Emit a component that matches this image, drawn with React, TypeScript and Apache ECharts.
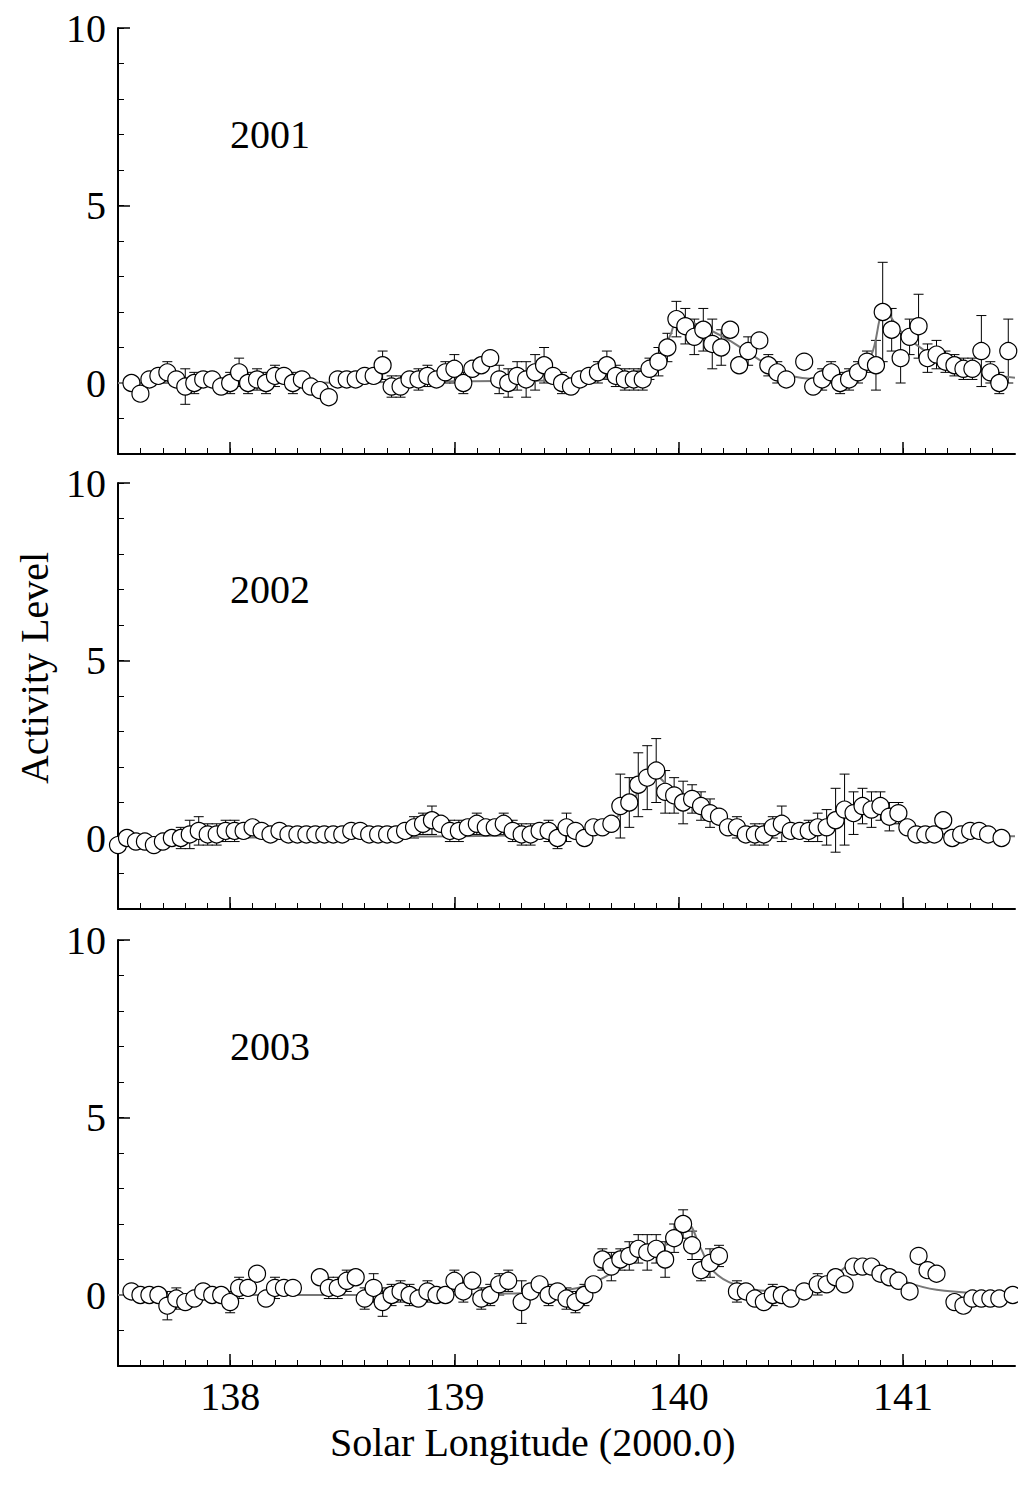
import React, { useEffect, useRef } from "react";
import * as echarts from "echarts";

const years = ["2001", "2002", "2003"];
const xLabels = [138, 139, 140, 141];
const yLabels = [0, 5, 10];

// [solar longitude, activity, error half-length]
const obs2001 = [[137.56,0,0],[137.60,-0.3,0],[137.64,0.1,0],[137.68,0.2,0.2],[137.72,0.3,0.3],[137.76,0.1,0],[137.80,-0.1,0.5],[137.84,0,0.3],[137.88,0.1,0],[137.92,0.1,0.2],[137.96,-0.1,0.2],[138.00,0,0.3],[138.04,0.3,0.4],[138.08,0,0.3],[138.12,0.1,0.3],[138.16,0,0.3],[138.20,0.2,0.3],[138.24,0.2,0],[138.28,0,0.3],[138.32,0.1,0.2],[138.36,-0.1,0],[138.40,-0.2,0],[138.44,-0.4,0],[138.48,0.1,0],[138.52,0.1,0],[138.56,0.1,0],[138.60,0.2,0],[138.64,0.2,0],[138.68,0.5,0.4],[138.72,-0.1,0.3],[138.76,-0.1,0.3],[138.80,0.1,0],[138.84,0.1,0.3],[138.88,0.2,0.3],[138.92,0.1,0],[138.96,0.3,0.3],[139.00,0.4,0.4],[139.04,0,0.3],[139.08,0.4,0],[139.12,0.5,0],[139.16,0.7,0],[139.20,0.1,0.4],[139.24,0,0.4],[139.28,0.2,0.4],[139.32,0.1,0.5],[139.36,0.3,0.5],[139.40,0.5,0.5],[139.44,0.2,0],[139.48,0,0.3],[139.52,-0.1,0.2],[139.56,0.1,0],[139.60,0.2,0],[139.64,0.3,0.3],[139.68,0.5,0.4],[139.72,0.2,0.3],[139.76,0.1,0.3],[139.80,0.1,0.3],[139.84,0.1,0.3],[139.87,0.4,0.3],[139.91,0.6,0.4],[139.95,1.0,0.4],[139.99,1.8,0.5],[140.03,1.6,0.5],[140.07,1.3,0.5],[140.11,1.5,0.6],[140.15,1.1,0.7],[140.19,1.0,0.5],[140.23,1.5,0],[140.27,0.5,0],[140.31,0.9,0.4],[140.36,1.2,0],[140.40,0.5,0.3],[140.44,0.3,0.3],[140.48,0.1,0],[140.56,0.6,0],[140.60,-0.1,0],[140.64,0.1,0.3],[140.68,0.3,0.3],[140.72,0,0.3],[140.76,0.1,0.3],[140.80,0.3,0.3],[140.84,0.6,0.3],[140.88,0.5,0.7],[140.91,2.0,1.4],[140.95,1.5,0.6],[140.99,0.7,0.7],[141.03,1.3,0.5],[141.07,1.6,0.9],[141.11,0.7,0.4],[141.15,0.8,0.4],[141.19,0.6,0.3],[141.23,0.5,0.3],[141.27,0.4,0.3],[141.31,0.4,0.3],[141.35,0.9,1.0],[141.39,0.3,0.3],[141.43,0,0.3],[141.47,0.9,0.9]];

const obs2002 = [[137.50,-0.2,0],[137.54,0,0.2],[137.58,-0.1,0.2],[137.62,-0.1,0.2],[137.66,-0.2,0],[137.70,-0.1,0],[137.74,0,0.2],[137.78,0,0.3],[137.82,0.1,0.4],[137.86,0.2,0.4],[137.90,0.1,0.3],[137.94,0.1,0.3],[137.98,0.2,0.3],[138.02,0.2,0.3],[138.06,0.2,0.2],[138.10,0.3,0],[138.14,0.2,0],[138.18,0.1,0.2],[138.22,0.2,0.2],[138.26,0.1,0],[138.30,0.1,0],[138.34,0.1,0],[138.38,0.1,0],[138.42,0.1,0],[138.46,0.1,0],[138.50,0.1,0],[138.54,0.2,0],[138.58,0.2,0],[138.62,0.1,0],[138.66,0.1,0.2],[138.70,0.1,0.2],[138.74,0.1,0.2],[138.78,0.2,0.2],[138.82,0.3,0.3],[138.86,0.4,0.3],[138.90,0.5,0.4],[138.94,0.4,0],[138.98,0.2,0.3],[139.02,0.2,0.3],[139.06,0.3,0],[139.10,0.4,0.3],[139.14,0.3,0],[139.18,0.3,0],[139.22,0.4,0.3],[139.26,0.2,0.3],[139.30,0.1,0.3],[139.34,0.1,0.3],[139.38,0.2,0],[139.42,0.2,0.3],[139.46,0,0.3],[139.50,0.3,0.4],[139.54,0.2,0],[139.58,0,0.2],[139.62,0.3,0],[139.66,0.3,0],[139.70,0.4,0],[139.74,0.9,0.9],[139.78,1.0,0.7],[139.82,1.5,0.9],[139.86,1.7,0.9],[139.90,1.9,0.9],[139.94,1.3,0.6],[139.98,1.2,0.5],[140.02,1.0,0.6],[140.06,1.1,0.4],[140.10,0.9,0.4],[140.14,0.7,0.4],[140.18,0.6,0],[140.22,0.3,0],[140.26,0.3,0.3],[140.30,0.1,0.2],[140.34,0.1,0.3],[140.38,0.1,0.3],[140.42,0.3,0.3],[140.46,0.4,0.5],[140.50,0.2,0],[140.54,0.2,0.2],[140.58,0.2,0.3],[140.62,0.3,0.4],[140.66,0.3,0.5],[140.70,0.5,0.9],[140.74,0.8,1.0],[140.78,0.7,0.6],[140.82,0.9,0.5],[140.86,0.8,0.5],[140.90,0.9,0.4],[140.94,0.6,0.4],[140.98,0.7,0.3],[141.02,0.3,0],[141.06,0.1,0.2],[141.10,0.1,0.2],[141.14,0.1,0],[141.18,0.5,0],[141.22,0,0.2],[141.26,0.1,0],[141.30,0.2,0.2],[141.34,0.2,0],[141.38,0.1,0.2],[141.44,0,0]];

const obs2003 = [[137.56,0.1,0.2],[137.60,0,0],[137.64,0,0.2],[137.68,0,0],[137.72,-0.3,0.4],[137.76,-0.1,0.3],[137.80,-0.2,0.2],[137.84,-0.1,0],[137.88,0.1,0.2],[137.92,0,0],[137.96,0,0.2],[138.00,-0.2,0.3],[138.04,0.2,0.3],[138.08,0.2,0],[138.12,0.6,0],[138.16,-0.1,0],[138.20,0.2,0.3],[138.24,0.2,0],[138.28,0.2,0],[138.40,0.5,0],[138.44,0.2,0.3],[138.48,0.2,0.3],[138.52,0.4,0.3],[138.56,0.5,0],[138.60,-0.1,0.3],[138.64,0.2,0.4],[138.68,-0.2,0.4],[138.72,0,0.3],[138.76,0.1,0.3],[138.80,0,0.3],[138.84,-0.1,0.2],[138.88,0.1,0.3],[138.92,0,0.2],[138.96,0,0.2],[139.00,0.4,0.3],[139.04,0.1,0.3],[139.08,0.4,0],[139.12,-0.1,0.3],[139.16,0,0.3],[139.20,0.3,0.3],[139.24,0.4,0.3],[139.30,-0.2,0.6],[139.34,0.1,0],[139.38,0.3,0],[139.42,0,0.3],[139.46,0.1,0],[139.50,-0.1,0.3],[139.54,-0.2,0.3],[139.58,0,0.3],[139.62,0.3,0],[139.66,1.0,0.3],[139.70,0.8,0.4],[139.74,1.0,0.3],[139.78,1.1,0.4],[139.82,1.3,0.4],[139.86,1.2,0.5],[139.90,1.3,0.4],[139.94,1.0,0.5],[139.98,1.6,0.4],[140.02,2.0,0.4],[140.06,1.4,0.4],[140.10,0.7,0.3],[140.14,0.9,0.4],[140.18,1.1,0.3],[140.26,0.1,0.3],[140.30,0.1,0.2],[140.34,-0.1,0],[140.38,-0.2,0.2],[140.42,0,0.3],[140.46,0,0.2],[140.50,-0.1,0],[140.56,0.1,0],[140.62,0.3,0.3],[140.66,0.3,0],[140.70,0.5,0.2],[140.74,0.3,0],[140.78,0.8,0.2],[140.82,0.8,0],[140.86,0.8,0.2],[140.90,0.6,0.2],[140.94,0.5,0.2],[140.98,0.4,0],[141.03,0.1,0],[141.07,1.1,0],[141.11,0.7,0],[141.15,0.6,0],[141.23,-0.2,0.2],[141.27,-0.3,0.2],[141.31,-0.1,0],[141.35,-0.1,0.2],[141.39,-0.1,0],[141.43,-0.1,0],[141.49,0,0]];

const fit2001 = [[137.5,0],[138,0],[139,0.05],[139.6,0.1],[139.8,0.3],[139.9,0.7],[139.96,1.3],[140.0,1.8],[140.1,1.6],[140.2,1.3],[140.3,0.9],[140.4,0.5],[140.5,0.2],[140.7,0.1],[140.8,0.3],[140.86,0.8],[140.92,2.0],[141.0,1.4],[141.1,0.9],[141.2,0.6],[141.35,0.3],[141.5,0.15]];
const fit2002 = [[137.5,0],[139,0.05],[139.5,0.15],[139.7,0.5],[139.8,1.1],[139.88,1.85],[139.95,1.5],[140.05,1.1],[140.2,0.5],[140.35,0.15],[140.55,0.15],[140.7,0.5],[140.85,0.9],[140.95,0.7],[141.05,0.3],[141.2,0.1],[141.5,0.05]];
const fit2003 = [[137.5,0],[138.5,0],[139.3,0.05],[139.55,0.2],[139.7,0.6],[139.8,1.0],[139.9,1.3],[140.0,1.6],[140.04,2.0],[140.1,1.3],[140.15,0.7],[140.25,0.3],[140.45,0.1],[140.65,0.3],[140.78,0.85],[140.9,0.7],[141.0,0.4],[141.15,0.15],[141.5,0]];

const obsAll = [obs2001, obs2002, obs2003];
const fitAll = [fit2001, fit2002, fit2003];

const FONT = "Liberation Serif";
const tops = [28, 483, 940];
const H = 426;

export default function App() {
  const ref = useRef<HTMLDivElement>(null);
  useEffect(() => {
    document.body.style.margin = "0";
    const chart = echarts.init(ref.current!, null, { renderer: "svg" });
    const minorX: number[] = [];
    for (let i = 1; i < 40; i++) minorX.push(+(137.5 + i * 0.1).toFixed(1));
    const minorY: number[] = [];
    for (let v = -2; v <= 10; v++) minorY.push(v);
    const grid: any[] = [], xAxis: any[] = [], yAxis: any[] = [], series: any[] = [], graphic: any[] = [];
    tops.forEach((top, g) => {
      grid.push({ left: 118, right: 3, top, height: H });
      const last = g === 2;
      const baseX = { type: "value", gridIndex: g, min: 137.5, max: 141.5, splitLine: { show: false } };
      xAxis.push({ ...baseX, position: "bottom", axisLine: { show: true, onZero: false, lineStyle: { color: "#000", width: 2 } },
        axisTick: { show: true, inside: true, length: 12, customValues: xLabels, lineStyle: { color: "#000", width: 1.5 } },
        axisLabel: { show: last, customValues: xLabels, color: "#000", fontFamily: FONT, fontSize: 40, margin: 10 } });
      xAxis.push({ ...baseX, position: "bottom", axisLine: { show: false, onZero: false },
        axisTick: { show: true, inside: true, length: 6, customValues: minorX, lineStyle: { color: "#000", width: 1 } },
        axisLabel: { show: false } });
      const baseY = { type: "value", gridIndex: g, min: -2, max: 10, splitLine: { show: false } };
      yAxis.push({ ...baseY, position: "left", axisLine: { show: true, onZero: false, lineStyle: { color: "#000", width: 2 } },
        axisTick: { show: true, inside: true, length: 12, customValues: yLabels, lineStyle: { color: "#000", width: 1.5 } },
        axisLabel: { show: true, customValues: yLabels, color: "#000", fontFamily: FONT, fontSize: 40, margin: 12 } });
      yAxis.push({ ...baseY, position: "left", axisLine: { show: false, onZero: false },
        axisTick: { show: true, inside: true, length: 6, customValues: minorY, lineStyle: { color: "#000", width: 1 } },
        axisLabel: { show: false } });
      const ax = { xAxisIndex: 2 * g, yAxisIndex: 2 * g };
      series.push({ type: "custom", ...ax, data: obsAll[g], z: 2,
        renderItem: (params: any, api: any) => {
          const x = api.value(0), y = api.value(1), e = api.value(2);
          if (!e) return { type: "group", children: [] };
          const lo = api.coord([x, y - e]), hi = api.coord([x, y + e]);
          const st = { stroke: "#000", lineWidth: 1 };
          return { type: "group", children: [
            { type: "line", shape: { x1: lo[0], y1: lo[1], x2: hi[0], y2: hi[1] }, style: st },
            { type: "line", shape: { x1: lo[0] - 5, y1: lo[1], x2: lo[0] + 5, y2: lo[1] }, style: st },
            { type: "line", shape: { x1: hi[0] - 5, y1: hi[1], x2: hi[0] + 5, y2: hi[1] }, style: st },
          ] };
        } });
      series.push({ type: "line", ...ax, data: fitAll[g], smooth: 0.4, showSymbol: false, z: 3,
        lineStyle: { color: "#777", width: 2 } });
      series.push({ type: "scatter", ...ax, data: obsAll[g].map((d) => [d[0], d[1]]), symbol: "circle", symbolSize: 17, z: 4,
        itemStyle: { color: "#fff", borderColor: "#000", borderWidth: 1.2, opacity: 1 } });
      graphic.push({ type: "text", left: 230, top: top + 86, style: { text: years[g], font: `40px "${FONT}"`, fill: "#000" } });
    });
    graphic.push({ type: "text", left: 330, top: 1422, style: { text: "Solar Longitude (2000.0)", font: `40px "${FONT}"`, fill: "#000" } });
    graphic.push({ type: "text", x: 14, y: 668, rotation: Math.PI / 2, style: { text: "Activity Level", font: `40px "${FONT}"`, fill: "#000", align: "center", verticalAlign: "top" } });
    chart.setOption({ animation: false, grid, xAxis, yAxis, series, graphic });
    return () => chart.dispose();
  }, []);
  return <div ref={ref} style={{ width: 1018, height: 1498 }} />;
}
